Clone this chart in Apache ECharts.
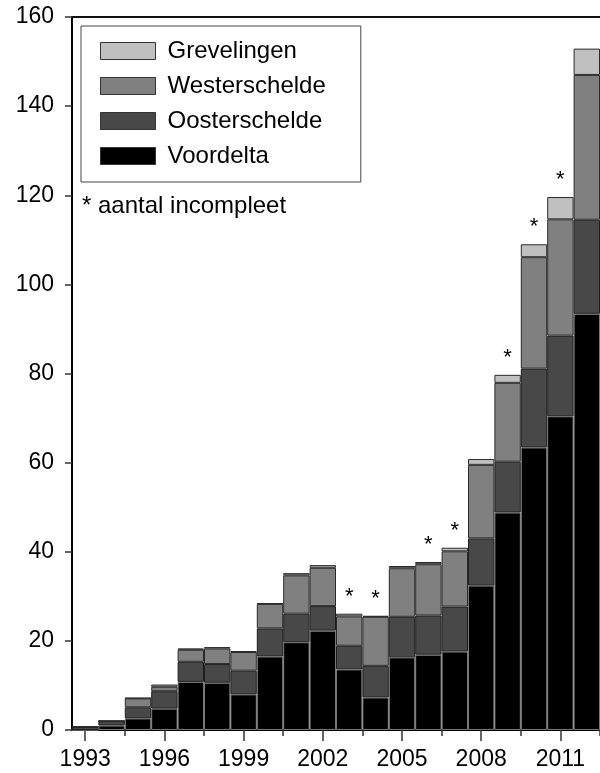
<!DOCTYPE html>
<html>
<head>
<meta charset="utf-8">
<script src="https://cdn.jsdelivr.net/npm/echarts@6/dist/echarts.min.js"></script>
<style>
html,body{margin:0;padding:0;background:#fff;}
#chart{width:600px;height:773px;}
</style>
</head>
<body>
<div id="chart"></div>
<script>
const years = ['1993','1994','1995','1996','1997','1998','1999','2000','2001','2002','2003','2004','2005','2006','2007','2008','2009','2010','2011','2012'];
const voordelta     = [0, 1.0, 2.6, 4.8, 10.8, 10.6, 8.0, 16.5, 19.7, 22.3, 13.6, 7.3, 16.3, 16.9, 17.6, 32.4, 48.8, 63.4, 70.4, 93.4];
const oosterschelde = [0.7, 1.0, 2.5, 3.9, 4.5, 4.2, 5.3, 6.3, 6.4, 5.5, 5.3, 7.1, 9.1, 8.8, 10.1, 10.6, 11.4, 17.7, 18.1, 21.1];
const westerschelde = [0, 0, 2.0, 1.0, 2.7, 3.5, 4.2, 5.5, 8.6, 8.6, 6.6, 11.0, 10.9, 11.5, 12.4, 16.5, 17.7, 25.0, 26.1, 32.5];
const grevelingen   = [0, 0, 0.1, 0.5, 0.3, 0.3, 0.2, 0.1, 0.5, 0.6, 0.6, 0.2, 0.5, 0.5, 0.8, 1.3, 1.8, 2.9, 5.0, 5.9];
const incomplete = ['2003','2004','2006','2007','2009','2010','2011'];
const yTicks = {min: 0, max: 160, interval: 20};
const footnote = '* aantal incompleet';

const FONT = '"Liberation Sans", Arial, sans-serif';
const chart = echarts.init(document.getElementById('chart'), null, {renderer: 'canvas'});

function barSeries(name, data, color, border, extra) {
  return Object.assign({
    name: name,
    type: 'bar',
    stack: 'total',
    data: data,
    barCategoryGap: 0,
    barGap: 0,
    xAxisIndex: 0,
    itemStyle: {color: color, borderColor: border, borderWidth: 1},
    emphasis: {disabled: true},
    animation: false
  }, extra || {});
}

const option = {
  backgroundColor: '#fff',
  animation: false,
  grid: {left: 72, right: 0, top: 17, bottom: 43, containLabel: false},
  legend: {
    orient: 'vertical',
    left: 81,
    top: 26,
    data: ['Grevelingen', 'Westerschelde', 'Oosterschelde', 'Voordelta'],
    itemWidth: 55,
    itemHeight: 17,
    itemGap: 11,
    padding: [13, 35, 14, 19],
    borderColor: '#444',
    borderWidth: 1,
    selectedMode: false,
    icon: 'rect',
    itemStyle: {borderColor: '#333', borderWidth: 1},
    textStyle: {fontFamily: FONT, fontSize: 24, color: '#000', padding: [0, 0, 0, 7]}
  },
  graphic: [{
    type: 'text',
    left: 82,
    top: 194,
    style: {text: footnote, font: '24px ' + FONT, fill: '#000'}
  }],
  xAxis: [
    {
      type: 'category',
      data: years,
      position: 'bottom',
      boundaryGap: true,
      axisLine: {show: true, lineStyle: {color: '#000', width: 2}},
      axisTick: {show: true, alignWithLabel: true, length: 11, interval: (i) => i % 3 === 0,
                 lineStyle: {color: '#333', width: 1.5}},
      axisLabel: {show: true, interval: (i) => i % 3 === 0, margin: 18,
                  fontFamily: FONT, fontSize: 23, color: '#000'},
      splitLine: {show: false}
    },
    {
      type: 'category',
      data: years,
      position: 'bottom',
      boundaryGap: true,
      axisLine: {show: false},
      axisTick: {show: true, length: 6, interval: (i) => i % 3 === 2,
                 lineStyle: {color: '#333', width: 1.5}},
      axisLabel: {show: false},
      splitLine: {show: false}
    },
    {
      type: 'category',
      data: years,
      position: 'top',
      axisLine: {show: true, lineStyle: {color: '#111', width: 2}},
      axisTick: {show: false},
      axisLabel: {show: false},
      splitLine: {show: false}
    }
  ],
  yAxis: {
    type: 'value',
    min: yTicks.min,
    max: yTicks.max,
    interval: yTicks.interval,
    axisLine: {show: true, lineStyle: {color: '#000', width: 2}},
    axisTick: {show: true, length: 7, lineStyle: {color: '#333', width: 1.5}},
    axisLabel: {margin: 18, fontFamily: FONT, fontSize: 23, color: '#000'},
    splitLine: {show: false}
  },
  series: [
    barSeries('Voordelta', voordelta, '#000000', '#777777'),
    barSeries('Oosterschelde', oosterschelde, '#484848', '#1e1e1e'),
    barSeries('Westerschelde', westerschelde, '#808080', '#2a2a2a'),
    barSeries('Grevelingen', grevelingen, '#c0c0c0', '#2a2a2a', {
      label: {
        show: true,
        position: 'top',
        distance: 6,
        fontFamily: FONT,
        fontSize: 22,
        color: '#000',
        formatter: (p) => incomplete.indexOf(years[p.dataIndex]) >= 0 ? '*' : ''
      }
    })
  ]
};
chart.setOption(option);
</script>
</body>
</html>
